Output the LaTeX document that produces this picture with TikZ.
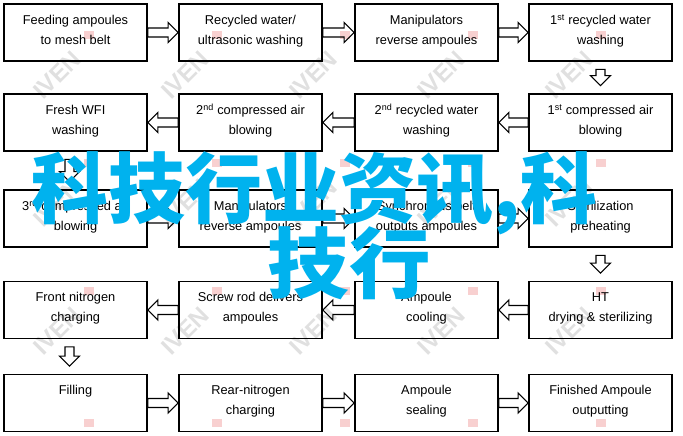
\documentclass[tikz,border=0pt]{standalone}
\usepackage{fontspec}
\setmainfont{Liberation Sans}
\newfontfamily\cjk{Noto Sans CJK SC}
\usepackage{tikz}
\usetikzlibrary{positioning,calc}
\definecolor{bigcyan}{RGB}{0,178,238}
\definecolor{wmgray}{RGB}{224,224,224}
\definecolor{wmred}{RGB}{248,208,208}

\tikzset{
  blk gap/.store in=\blkgap, blk gap=0pt,
  blockarrow/.style={line width=1.1pt, line join=miter, to path={
    ($(\tikztostart)!\blkgap!(\tikztotarget)$) coordinate (bs)
    ($(\tikztotarget)!\blkgap!(\tikztostart)$) coordinate (bt)
    ($(bt)!10pt!(bs)$) coordinate (bh)
    ($(bs)!4.5pt!90:(bt)$) -- ($(bh)!4.5pt!90:(bt)$) -- ($(bh)!10pt!90:(bt)$) -- (bt)
    -- ($(bh)!10pt!-90:(bt)$) -- ($(bh)!4.5pt!-90:(bt)$) -- ($(bs)!4.5pt!-90:(bt)$) -- cycle}},
}

\begin{document}
\begin{tikzpicture}[x=1pt,y=-1pt,
  proc/.style={draw,line width=1.8pt,minimum width=143pt,minimum height=57pt,inner sep=0pt,
    align=center,font=\fontsize{12.8}{20}\selectfont,
    execute at begin node=\strut,execute at end node=\strut},
  wmark/.style={font=\bfseries\fontsize{24}{24}\selectfont,text=wmgray,rotate=45,inner sep=0pt},
  wlogo/.style={fill=wmred,minimum width=10pt,minimum height=8pt,inner sep=0pt},
  bigtext/.style={font=\cjk\bfseries\fontsize{77}{77}\selectfont,text=bigcyan,inner sep=0pt}]

    \useasboundingbox (0,0) rectangle (683,436);

    % watermark
    \foreach \wx in {57,185,313,441,569}
      \foreach \wy in {75,203,331} {
        \node [wmark] at (\wx,\wy) (wm-\wx-\wy) {IVEN};
        \node [wlogo] at (\wx+32,\wy-40) (wl-\wx-\wy) {};
      }
    \foreach \wx in {57,185,313,441,569}
        \node [wlogo] at (\wx+32,423) (wl-\wx-b) {};

    % first row
    \node [proc] at (75.5,32.5) (feed) {Feeding ampoules\\to mesh belt};
    \node [proc] at (250.5,32.5) (recyc) {Recycled water/\\ultrasonic washing};
    \node [proc] at (426.5,32.5) (manip1) {Manipulators\\reverse ampoules};
    \node [proc] at (600.5,32.5) (wash1) {1\textsuperscript{st} recycled water\\washing};

    % second row
    \node [proc] at (75.5,122.5) (wfi) {Fresh WFI\\washing};
    \node [proc] at (250.5,122.5) (air2) {2\textsuperscript{nd} compressed air\\blowing};
    \node [proc] at (426.5,122.5) (wash2) {2\textsuperscript{nd} recycled water\\washing};
    \node [proc] at (600.5,122.5) (air1) {1\textsuperscript{st} compressed air\\blowing};

    % third row
    \node [proc] at (75.5,218.5) (air3) {3\textsuperscript{rd} compressed air\\blowing};
    \node [proc] at (250.5,218.5) (manip2) {Manipulators\\reverse ampoules};
    \node [proc] at (426.5,218.5) (belt) {Synchronous belt\\outputs ampoules};
    \node [proc] at (600.5,218.5) (preheat) {Sterilization\\preheating};

    % fourth row
    \node [proc] at (75.5,310) (nfront) {Front nitrogen\\charging};
    \node [proc] at (250.5,310) (screw) {Screw rod delivers\\ampoules};
    \node [proc] at (426.5,310) (cool) {Ampoule\\cooling};
    \node [proc] at (600.5,310) (dry) {HT\\drying \& sterilizing};

    % fifth row
    \node [proc] at (75.5,403) (fill) {Filling\\~};
    \node [proc] at (250.5,403) (nrear) {Rear-nitrogen\\charging};
    \node [proc] at (426.5,403) (seal) {Ampoule\\sealing};
    \node [proc] at (600.5,403) (finish) {Finished Ampoule\\outputting};

    % hollow arrows
    \path[blockarrow]
    (feed.east) edge (recyc.west)
    (recyc.east) edge (manip1.west)
    (manip1.east) edge (wash1.west)
    (air1.west) edge (wash2.east)
    (wash2.west) edge (air2.east)
    (air2.west) edge (wfi.east)
    (air3.east) edge (manip2.west)
    (manip2.east) edge (belt.west)
    (belt.east) edge (preheat.west)
    (dry.west) edge (cool.east)
    (cool.west) edge (screw.east)
    (screw.west) edge (nfront.east)
    (fill.east) edge (nrear.west)
    (nrear.east) edge (seal.west)
    (seal.east) edge (finish.west)
    ;

    \path[blockarrow,blk gap=7.5pt]
    (wash1.south) edge (air1.north)
    ([xshift=-6pt]wfi.south) edge ([xshift=-6pt]air3.north)
    (preheat.south) edge (dry.north)
    ([xshift=-6pt]nfront.south) edge ([xshift=-6pt]fill.north)
    ;

    % overlay text
    \node [bigtext,anchor=base west] at (31,217) (title1) {科技行业资讯,科};
    \node [bigtext,anchor=base,xscale=1.06] at (349,292) (title2) {技行};

\end{tikzpicture}
\end{document}
